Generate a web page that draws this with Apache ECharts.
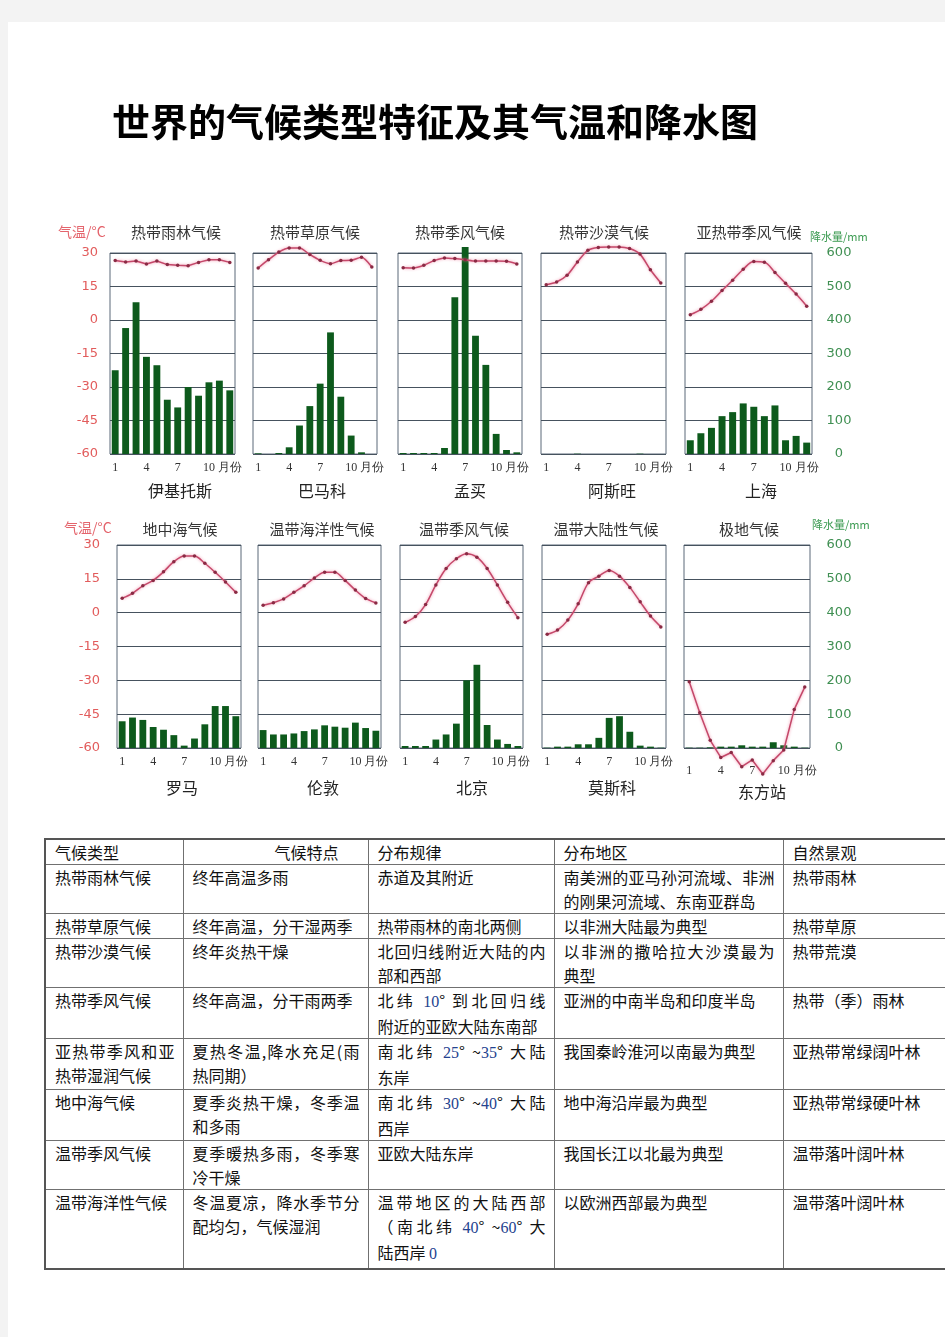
<!DOCTYPE html>
<html><head><meta charset="utf-8">
<script src="https://cdn.jsdelivr.net/npm/echarts@6/dist/echarts.min.js"></script>
<style>
html,body{margin:0;padding:0;background:#f3f3f3;width:945px;height:1337px;overflow:hidden;}
#page{position:absolute;left:8px;top:22px;width:937px;height:1315px;background:#fff;}
#chart{position:absolute;left:0;top:0;width:945px;height:820px;}
#tbl{position:absolute;left:44px;top:838px;width:920px;border-collapse:collapse;table-layout:fixed;font-family:"Noto Sans CJK SC";font-size:16px;color:#111;border:2px solid #555;}
#tbl td{border:1px solid #707070;vertical-align:top;padding:0 8px 0 9px;line-height:24px;overflow:hidden;box-sizing:border-box;}
#tbl .j{text-align:justify;text-align-last:justify;}
#tbl .n{font-family:"Liberation Serif";color:#24438f;}
</style></head>
<body><div id="page"></div><div id="chart"></div><table id="tbl"></table>
<script>
// ---------- data ----------
const months = ['1','2','3','4','5','6','7','8','9','10','11','12'];
const climateNames = ['热带雨林气候','热带草原气候','热带季风气候','热带沙漠气候','亚热带季风气候',
                      '地中海气候','温带海洋性气候','温带季风气候','温带大陆性气候','极地气候'];
const stationNames = ['伊基托斯','巴马科','孟买','阿斯旺','上海','罗马','伦敦','北京','莫斯科','东方站'];
const tempTicks = [-60,-45,-30,-15,0,15,30];
const precTicks = [0,100,200,300,400,500,600];

const tempIquitos = [26.6,26.0,26.4,25.1,26.4,24.8,24.5,24.3,25.8,27.0,27.0,25.8];
const precIquitos = [250,376,453,290,265,162,139,200,174,214,219,190];
const tempBamako  = [23.3,27.0,30.4,32.2,32.2,29.3,26.7,25.2,26.6,26.7,28.1,23.7];
const precBamako  = [2,0,3,20,85,143,210,363,171,55,5,0];
const tempMumbai  = [23.4,23.3,24.5,26.6,27.8,27.5,27.0,26.4,26.4,26.4,26.3,25.1];
const precMumbai  = [3,3,3,3,18,468,618,353,266,60,12,5];
const tempAswan   = [15.8,17.0,20.0,26.0,31.2,32.5,32.7,32.7,32.0,29.5,22.5,16.6];
const precAswan   = [0,0,0,1,0,0,0,0,0,1,0,0];
const tempShanghai= [2.4,4.8,8.4,13.2,17.8,22.7,26.2,25.9,21.3,16.4,11.6,6.2];
const precShanghai= [41,62,78,113,125,151,141,113,145,41,54,34];
const tempRome    = [6.4,8.6,11.9,14.3,18.1,22.6,25.1,25.1,21.9,17.9,13.6,9.0];
const precRome    = [79,90,83,62,54,38,7,28,70,124,124,94];
const tempLondon  = [3.3,4.4,6.1,9.0,11.9,15.4,17.9,17.9,14.3,10.0,6.3,4.3];
const precLondon  = [53,40,40,43,50,55,67,63,60,75,59,51];
const tempBeijing = [-4.3,-1.7,3.6,12.3,19.6,23.9,26.1,24.6,19.6,12.3,4.6,-2.2];
const precBeijing = [6,6,6,25,40,72,200,246,68,25,12,6];
const tempMoscow  = [-9.6,-7.7,-3.3,3.9,13.3,16.2,18.7,16.2,11.2,4.8,-1.5,-6.3];
const precMoscow  = [1,4,4,11,11,30,89,94,48,7,4,1];
const tempVostok  = [-30.6,-44.4,-56.6,-64.2,-62.0,-68.3,-65.3,-71.5,-65.6,-60.9,-42.9,-33.0];
const precVostok  = [1,1,2,4,4,8,4,4,17,8,4,1];

const temps = [tempIquitos,tempBamako,tempMumbai,tempAswan,tempShanghai,tempRome,tempLondon,tempBeijing,tempMoscow,tempVostok];
const precs = [precIquitos,precBamako,precMumbai,precAswan,precShanghai,precRome,precLondon,precBeijing,precMoscow,precVostok];

// table text
const tableHeader = ['气候类型','气候特点','分布规律','分布地区','自然景观'];
const tableRows = [
 ['热带雨林气候','终年高温多雨','赤道及其附近','南美洲的亚马孙河流域、非洲|的刚果河流域、东南亚群岛','热带雨林'],
 ['热带草原气候','终年高温，分干湿两季','热带雨林的南北两侧','以非洲大陆最为典型','热带草原'],
 ['热带沙漠气候','终年炎热干燥','北回归线附近大陆的内|部和西部','以非洲的撒哈拉大沙漠最为|典型','热带荒漠'],
 ['热带季风气候','终年高温，分干雨两季','北纬 10° 到北回归线|附近的亚欧大陆东南部','亚洲的中南半岛和印度半岛','热带（季）雨林'],
 ['亚热带季风和亚|热带湿润气候','夏热冬温,降水充足(雨|热同期）','南北纬 25° ~35° 大陆|东岸','我国秦岭淮河以南最为典型','亚热带常绿阔叶林'],
 ['地中海气候','夏季炎热干燥，冬季温|和多雨','南北纬 30° ~40° 大陆|西岸','地中海沿岸最为典型','亚热带常绿硬叶林'],
 ['温带季风气候','夏季暖热多雨，冬季寒|冷干燥','亚欧大陆东岸','我国长江以北最为典型','温带落叶阔叶林'],
 ['温带海洋性气候','冬温夏凉，降水季节分|配均匀，气候湿润','温带地区的大陆西部|（南北纬 40° ~60° 大|陆西岸 0','以欧洲西部最为典型','温带落叶阔叶林']
];

// ---------- layout ----------
const gridBoxes = [
 [110,253,125,201],[253,253,124,201],[398,253,124,201],[541,253,125,201],[685,253,127,201],
 [117,545,124,203],[258,545,123,203],[400,545,123,203],[542,545,124,203],[684,545,126,203]
];
const smoothness = [0,0.25,0.25,0.3,0.35,0.3,0.3,0.35,0.3,0];
const titleX = [176,315,460,604,749,180,322,464,606,749];
const cityX  = [180,322,470,612,761,182,323,472,612,762];
const colWidths = [138,185,186,229,182];
const rowHeights = [25,49,24,49,49,48,49,49,79];

// ---------- chart ----------
const chart = echarts.init(document.getElementById('chart'), null, {renderer:'canvas'});
const grid=[], xAxis=[], yAxis=[], series=[];
gridBoxes.forEach((b,i)=>{
  grid.push({left:b[0],top:b[1],width:b[2],height:b[3],show:true,borderColor:'#5a6878',borderWidth:1,backgroundColor:'transparent'});
  xAxis.push({gridIndex:i,type:'category',data:months,boundaryGap:true,
    axisLine:{show:false},axisTick:{show:false},splitLine:{show:false},
    axisLabel:{interval:0,margin:(i===9?17:8),color:'#333',fontFamily:'Liberation Serif',fontSize:12,
      formatter:(v,idx)=> (idx===0||idx===3||idx===6||idx===9)? v : (idx===11?'月份':'')}});
  yAxis.push({gridIndex:i,type:'value',min:tempTicks[0],max:tempTicks[tempTicks.length-1],interval:15,position:'left',
    axisLine:{show:false},axisTick:{show:false},
    splitLine:{show:true,lineStyle:{color:'#46525e',width:1}},
    axisLabel:{show:(i===0||i===5),margin:(i===0?12:17),color:'#e25c5c',fontFamily:'DejaVu Sans',fontSize:13}});
  yAxis.push({gridIndex:i,type:'value',min:precTicks[0],max:precTicks[precTicks.length-1],interval:100,position:'right',
    axisLine:{show:false},axisTick:{show:false},splitLine:{show:false},
    axisLabel:{show:(i===4||i===9),align:'center',margin:(i===4?27:29),color:'#3f8f52',fontFamily:'DejaVu Sans',fontSize:13}});
  series.push({type:'bar',xAxisIndex:i,yAxisIndex:2*i+1,data:precs[i],barWidth:'66%',clip:false,silent:true,
    itemStyle:{color:'#0d5a1c'},z:2});
  series.push({type:'line',xAxisIndex:i,yAxisIndex:2*i,data:temps[i],smooth:smoothness[i],clip:false,silent:true,
    symbol:'circle',symbolSize:3.5,showSymbol:true,
    lineStyle:{color:'#c4486a',width:1.5,shadowColor:'rgba(240,130,160,0.9)',shadowBlur:3},
    itemStyle:{color:'#8a2a44'},z:5});
});

function txt(text,x,y,font,fill,align){
  return {type:'text',x:x,y:y,silent:true,z:10,
    style:{text:text,font:font,fill:fill,align:align||'center',verticalAlign:'middle',
           textAlign:align||'center',textVerticalAlign:'middle'}};
}
const graphics = [];
graphics.push(txt('世界的气候类型特征及其气温和降水图',112,122,'bold 38px "Noto Sans CJK SC"','#000','left'));
climateNames.forEach((n,i)=>graphics.push(txt(n,titleX[i], i<5?232:529,'15px "Noto Sans CJK SC"','#353535')));
stationNames.forEach((n,i)=>graphics.push(txt(n,cityX[i], i<5?491:(i===9?792:788),'16px "Noto Sans CJK SC"','#222')));
graphics.push(txt('气温/°C',58,232,'14px "Noto Sans CJK SC"','#e4646c','left'));
graphics.push(txt('气温/°C',64,528,'14px "Noto Sans CJK SC"','#e4646c','left'));
graphics.push(txt('降水量/mm',810,237,'11px "Noto Sans CJK SC"','#3a9a50','left'));
graphics.push(txt('降水量/mm',812,525,'11px "Noto Sans CJK SC"','#3a9a50','left'));

chart.setOption({animation:false,grid,xAxis,yAxis,series,graphic:graphics});

// ---------- table ----------
function cellHtml(s){
  const lines=s.split('|');
  return lines.map((l,k)=>{
    const h=l.replace(/(\d+)/g,'<span class="n">$1</span>');
    return '<div'+(k<lines.length-1?' class="j"':'')+'>'+h+'</div>';
  }).join('');
}
let html='<colgroup>'+colWidths.map(w=>'<col style="width:'+w+'px">').join('')+'</colgroup>';
html+='<tr>'+tableHeader.map((h,c)=>'<td style="height:'+rowHeights[0]+'px'+(c===1?';padding-left:91px':'')+'">'+h+'</td>').join('')+'</tr>';
tableRows.forEach((r,ri)=>{
  html+='<tr>'+r.map(c=>'<td style="height:'+rowHeights[ri+1]+'px">'+cellHtml(c)+'</td>').join('')+'</tr>';
});
document.getElementById('tbl').innerHTML=html;
</script></body></html>
